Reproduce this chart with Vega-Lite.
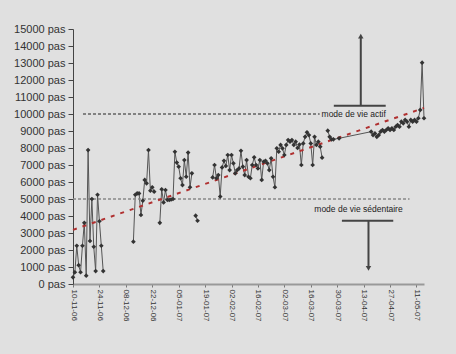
{
 "$schema": "https://vega.github.io/schema/vega-lite/v6.json",
 "width": 351,
 "height": 255,
 "autosize": "none",
 "padding": {"left": 73, "top": 29, "right": 32, "bottom": 70},
 "background": "#e0e0e0",
 "config": {
  "view": {"stroke": null},
  "font": "Liberation Sans",
  "mark": {"invalid": "break-paths-filter-domains"},
  "axis": {"labelOverlap": false, "grid": false, "title": null, "labelFlush": false},
  "axisX": {"labelAngle": 90, "labelFontSize": 8, "labelColor": "#333333", "domainColor": "#999999", "domainWidth": 2, "tickColor": "#777777", "tickSize": 3, "labelPadding": 2},
  "axisY": {"labelFontSize": 11, "labelColor": "#333333", "domainColor": "#444444", "tickColor": "#444444", "tickSize": 5, "labelPadding": 3}
 },
 "data": {
  "format": {"parse": {"date": "date:'%Y-%m-%d'"}},
  "values": [
   {"date": "2006-11-10", "steps": 390}, {"date": "2006-11-11", "steps": 690}, {"date": "2006-11-12", "steps": 2250}, {"date": "2006-11-13", "steps": 1110}, {"date": "2006-11-14", "steps": 690}, {"date": "2006-11-15", "steps": 2250}, {"date": "2006-11-16", "steps": 3600}, {"date": "2006-11-17", "steps": 490}, {"date": "2006-11-18", "steps": 7880}, {"date": "2006-11-19", "steps": 2530}, {"date": "2006-11-20", "steps": 5000}, {"date": "2006-11-21", "steps": 2190}, {"date": "2006-11-22", "steps": 760}, {"date": "2006-11-23", "steps": 5250}, {"date": "2006-11-24", "steps": 3690}, {"date": "2006-11-25", "steps": 2250}, {"date": "2006-11-26", "steps": 760}, {"date": "2006-11-27", "steps": null},
   {"date": "2006-12-12", "steps": 2490}, {"date": "2006-12-13", "steps": 5250}, {"date": "2006-12-14", "steps": 5330}, {"date": "2006-12-15", "steps": 5330}, {"date": "2006-12-16", "steps": 4060}, {"date": "2006-12-17", "steps": 4900}, {"date": "2006-12-18", "steps": 6120}, {"date": "2006-12-19", "steps": 5920}, {"date": "2006-12-20", "steps": 7880}, {"date": "2006-12-21", "steps": 5490}, {"date": "2006-12-22", "steps": 5690}, {"date": "2006-12-23", "steps": 5430}, {"date": "2006-12-24", "steps": null},
   {"date": "2006-12-26", "steps": 3600}, {"date": "2006-12-27", "steps": 5570}, {"date": "2006-12-28", "steps": 4800}, {"date": "2006-12-29", "steps": 5530}, {"date": "2006-12-30", "steps": 4950}, {"date": "2006-12-31", "steps": 4940},
   {"date": "2007-01-01", "steps": 4970}, {"date": "2007-01-02", "steps": 5000}, {"date": "2007-01-03", "steps": 7780}, {"date": "2007-01-04", "steps": 7140}, {"date": "2007-01-05", "steps": 6900}, {"date": "2007-01-06", "steps": 6220}, {"date": "2007-01-07", "steps": 5820}, {"date": "2007-01-08", "steps": 7290}, {"date": "2007-01-09", "steps": 6310}, {"date": "2007-01-10", "steps": 7730}, {"date": "2007-01-11", "steps": 5690}, {"date": "2007-01-12", "steps": 6510}, {"date": "2007-01-13", "steps": null},
   {"date": "2007-01-14", "steps": 4020}, {"date": "2007-01-15", "steps": 3720}, {"date": "2007-01-16", "steps": null},
   {"date": "2007-01-23", "steps": 6270}, {"date": "2007-01-24", "steps": 7000}, {"date": "2007-01-25", "steps": 6220}, {"date": "2007-01-26", "steps": 6410}, {"date": "2007-01-27", "steps": 5140}, {"date": "2007-01-28", "steps": 6860}, {"date": "2007-01-29", "steps": 7250}, {"date": "2007-01-30", "steps": 6940}, {"date": "2007-01-31", "steps": 7590},
   {"date": "2007-02-01", "steps": 6700}, {"date": "2007-02-02", "steps": 7590}, {"date": "2007-02-03", "steps": 7100}, {"date": "2007-02-04", "steps": 6510}, {"date": "2007-02-05", "steps": 6700}, {"date": "2007-02-06", "steps": 6800}, {"date": "2007-02-07", "steps": 7840}, {"date": "2007-02-08", "steps": 6900}, {"date": "2007-02-09", "steps": 6410}, {"date": "2007-02-10", "steps": 7290}, {"date": "2007-02-11", "steps": 6310}, {"date": "2007-02-12", "steps": 6220}, {"date": "2007-02-13", "steps": 7000}, {"date": "2007-02-14", "steps": 7450}, {"date": "2007-02-15", "steps": 7000}, {"date": "2007-02-16", "steps": 6800}, {"date": "2007-02-17", "steps": 7290}, {"date": "2007-02-18", "steps": 6120}, {"date": "2007-02-19", "steps": 7190}, {"date": "2007-02-20", "steps": 7250}, {"date": "2007-02-21", "steps": 7100}, {"date": "2007-02-22", "steps": 6700}, {"date": "2007-02-23", "steps": 7390}, {"date": "2007-02-24", "steps": 6310}, {"date": "2007-02-25", "steps": 5690}, {"date": "2007-02-26", "steps": 7980}, {"date": "2007-02-27", "steps": 7780}, {"date": "2007-02-28", "steps": 8180},
   {"date": "2007-03-01", "steps": 7980}, {"date": "2007-03-02", "steps": 7590}, {"date": "2007-03-03", "steps": 8180}, {"date": "2007-03-04", "steps": 8470}, {"date": "2007-03-05", "steps": 8370}, {"date": "2007-03-06", "steps": 8470}, {"date": "2007-03-07", "steps": 8180}, {"date": "2007-03-08", "steps": 8370}, {"date": "2007-03-09", "steps": 8000}, {"date": "2007-03-10", "steps": 8200}, {"date": "2007-03-11", "steps": 7000}, {"date": "2007-03-12", "steps": 8270}, {"date": "2007-03-13", "steps": 8660}, {"date": "2007-03-14", "steps": 8920}, {"date": "2007-03-15", "steps": 8760}, {"date": "2007-03-16", "steps": 8270}, {"date": "2007-03-17", "steps": 7000}, {"date": "2007-03-18", "steps": 8660}, {"date": "2007-03-19", "steps": 8180}, {"date": "2007-03-20", "steps": 8370}, {"date": "2007-03-21", "steps": 8080}, {"date": "2007-03-22", "steps": 7430}, {"date": "2007-03-23", "steps": null},
   {"date": "2007-03-25", "steps": 9020}, {"date": "2007-03-26", "steps": 8660}, {"date": "2007-03-27", "steps": 8510}, {"date": "2007-03-28", "steps": 8510}, {"date": "2007-03-31", "steps": 8570},
   {"date": "2007-04-17", "steps": 8960}, {"date": "2007-04-18", "steps": 8760}, {"date": "2007-04-19", "steps": 8860}, {"date": "2007-04-20", "steps": 8660}, {"date": "2007-04-21", "steps": 8760}, {"date": "2007-04-22", "steps": 8960}, {"date": "2007-04-23", "steps": 9060}, {"date": "2007-04-24", "steps": 8960}, {"date": "2007-04-25", "steps": 9060}, {"date": "2007-04-26", "steps": 9160}, {"date": "2007-04-27", "steps": 9060}, {"date": "2007-04-28", "steps": 9160}, {"date": "2007-04-29", "steps": 9060}, {"date": "2007-04-30", "steps": 9250},
   {"date": "2007-05-01", "steps": 9350}, {"date": "2007-05-02", "steps": 9250}, {"date": "2007-05-03", "steps": 9550}, {"date": "2007-05-04", "steps": 9450}, {"date": "2007-05-05", "steps": 9650}, {"date": "2007-05-06", "steps": 9550}, {"date": "2007-05-07", "steps": 9250}, {"date": "2007-05-08", "steps": 9650}, {"date": "2007-05-09", "steps": 9550}, {"date": "2007-05-10", "steps": 9650}, {"date": "2007-05-11", "steps": 9550}, {"date": "2007-05-12", "steps": 9750}, {"date": "2007-05-13", "steps": 10240}, {"date": "2007-05-14", "steps": 13020}, {"date": "2007-05-15", "steps": 9750}
  ]
 },
 "layer": [
  {
   "mark": {"type": "line", "stroke": "#555555", "strokeWidth": 1},
   "encoding": {
    "x": {
     "field": "date", "type": "temporal",
     "scale": {"domain": [{"year": 2006, "month": 11, "date": 10}, {"year": 2007, "month": 5, "date": 15}]},
     "axis": {
      "values": [
       {"year": 2006, "month": 11, "date": 10}, {"year": 2006, "month": 11, "date": 24}, {"year": 2006, "month": 12, "date": 8}, {"year": 2006, "month": 12, "date": 22},
       {"year": 2007, "month": 1, "date": 5}, {"year": 2007, "month": 1, "date": 19}, {"year": 2007, "month": 2, "date": 2}, {"year": 2007, "month": 2, "date": 16},
       {"year": 2007, "month": 3, "date": 2}, {"year": 2007, "month": 3, "date": 16}, {"year": 2007, "month": 3, "date": 30}, {"year": 2007, "month": 4, "date": 13},
       {"year": 2007, "month": 4, "date": 27}, {"year": 2007, "month": 5, "date": 11}
      ],
      "tickCount": 30,
      "format": "%d-%m-%y", "labelOverlap": false
     }
    },
    "y": {
     "field": "steps", "type": "quantitative",
     "scale": {"domain": [0, 15000], "nice": false},
     "axis": {
      "values": [0, 1000, 2000, 3000, 4000, 5000, 6000, 7000, 8000, 9000, 10000, 11000, 12000, 13000, 14000, 15000],
      "tickCount": 30,
      "labelExpr": "datum.value + ' pas'", "labelOverlap": false
     }
    }
   }
  },
  {
   "data": {"values": [{}]},
   "mark": {"type": "rule", "stroke": "#888888", "strokeDash": [3, 2], "strokeWidth": 1.5},
   "encoding": {
    "x": {"datum": {"year": 2006, "month": 11, "date": 10}, "type": "temporal"},
    "x2": {"datum": {"year": 2007, "month": 5, "date": 7, "hours": 8}},
    "y": {"datum": 5000, "type": "quantitative"}
   }
  },
  {
   "data": {"values": [{}]},
   "mark": {"type": "rule", "stroke": "#222222", "strokeDash": [3, 2], "strokeWidth": 1},
   "encoding": {
    "x": {"datum": {"year": 2006, "month": 11, "date": 15, "hours": 7}, "type": "temporal"},
    "x2": {"datum": {"year": 2007, "month": 3, "date": 20, "hours": 17}},
    "y": {"datum": 10000, "type": "quantitative"}
   }
  },
  {
   "transform": [{"filter": "isValid(datum.steps)"}, {"regression": "steps", "on": "date"}],
   "mark": {"type": "line", "stroke": "#b03030", "strokeDash": [4, 6], "strokeWidth": 2},
   "encoding": {
    "x": {"field": "date", "type": "temporal"},
    "y": {"field": "steps", "type": "quantitative"}
   }
  },
  {
   "mark": {"type": "point", "shape": "diamond", "filled": true, "color": "#333333", "size": 22, "opacity": 1},
   "encoding": {
    "x": {"field": "date", "type": "temporal"},
    "y": {"field": "steps", "type": "quantitative"}
   }
  },
  {
   "data": {"values": [{}]},
   "mark": {"type": "text", "text": "mode de vie actif", "align": "left", "baseline": "middle", "fontSize": 8.5, "color": "#222222"},
   "encoding": {
    "x": {"datum": {"year": 2007, "month": 3, "date": 21, "hours": 17}, "type": "temporal"},
    "y": {"datum": 10000, "type": "quantitative"}
   }
  },
  {
   "data": {"values": [{}]},
   "mark": {"type": "text", "text": "mode de vie sédentaire", "align": "center", "baseline": "middle", "fontSize": 8.5, "color": "#222222"},
   "encoding": {
    "x": {"datum": {"year": 2007, "month": 4, "date": 10, "hours": 7}, "type": "temporal"},
    "y": {"datum": 4390, "type": "quantitative"}
   }
  },
  {
   "data": {"values": [{}]},
   "mark": {"type": "rule", "stroke": "#444444", "strokeWidth": 2},
   "encoding": {
    "x": {"datum": {"year": 2007, "month": 3, "date": 28, "hours": 5}, "type": "temporal"},
    "x2": {"datum": {"year": 2007, "month": 4, "date": 24, "hours": 17}},
    "y": {"datum": 10490, "type": "quantitative"}
   }
  },
  {
   "data": {"values": [{}]},
   "mark": {"type": "rule", "stroke": "#444444", "strokeWidth": 2},
   "encoding": {
    "x": {"datum": {"year": 2007, "month": 4, "date": 11, "hours": 12}, "type": "temporal"},
    "y": {"datum": 10490, "type": "quantitative"},
    "y2": {"datum": 14500}
   }
  },
  {
   "data": {"values": [{}]},
   "mark": {"type": "point", "shape": "triangle-up", "filled": true, "color": "#444444", "size": 30, "opacity": 1},
   "encoding": {
    "x": {"datum": {"year": 2007, "month": 4, "date": 11, "hours": 12}, "type": "temporal"},
    "y": {"datum": 14580, "type": "quantitative"}
   }
  },
  {
   "data": {"values": [{}]},
   "mark": {"type": "rule", "stroke": "#444444", "strokeWidth": 2},
   "encoding": {
    "x": {"datum": {"year": 2007, "month": 4, "date": 1, "hours": 12}, "type": "temporal"},
    "x2": {"datum": {"year": 2007, "month": 4, "date": 28, "hours": 17}},
    "y": {"datum": 3720, "type": "quantitative"}
   }
  },
  {
   "data": {"values": [{}]},
   "mark": {"type": "rule", "stroke": "#444444", "strokeWidth": 2},
   "encoding": {
    "x": {"datum": {"year": 2007, "month": 4, "date": 15, "hours": 14}, "type": "temporal"},
    "y": {"datum": 3720, "type": "quantitative"},
    "y2": {"datum": 1000}
   }
  },
  {
   "data": {"values": [{}]},
   "mark": {"type": "point", "shape": "triangle-down", "filled": true, "color": "#444444", "size": 30, "opacity": 1},
   "encoding": {
    "x": {"datum": {"year": 2007, "month": 4, "date": 15, "hours": 14}, "type": "temporal"},
    "y": {"datum": 920, "type": "quantitative"}
   }
  }
 ]
}
